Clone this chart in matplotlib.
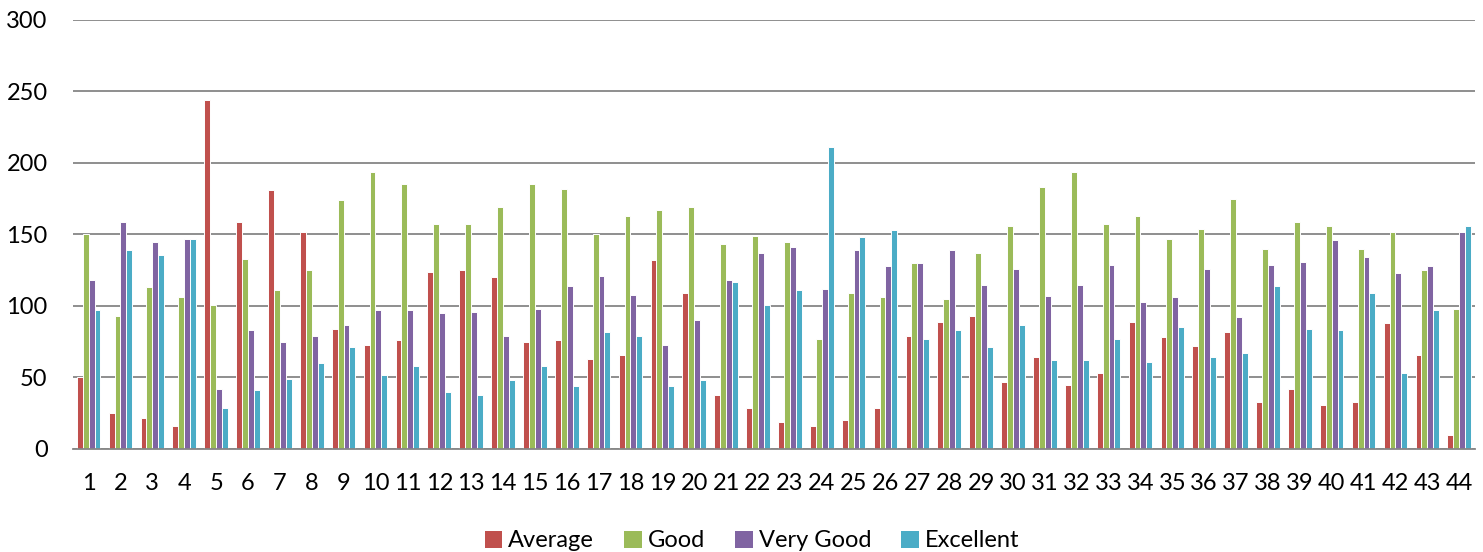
import matplotlib
matplotlib.use("Agg")
import matplotlib.pyplot as plt
import numpy as np

categories = [str(i) for i in range(1, 45)]
average = [50, 25, 22, 16, 244, 159, 181, 152, 84, 73, 76, 124, 125, 120, 75, 76, 63, 66, 132, 109,
           38, 29, 19, 16, 20, 29, 79, 89, 93, 47, 64, 45, 53, 89, 78, 72, 82, 33, 42, 31, 33, 88, 66, 10]
good = [150, 93, 113, 106, 101, 133, 111, 125, 174, 194, 185, 157, 157, 169, 185, 182, 150, 163, 167, 169,
        143, 149, 145, 77, 109, 106, 130, 105, 137, 156, 183, 194, 157, 163, 147, 154, 175, 140, 159, 156, 140, 152, 125, 98]
very_good = [118, 159, 145, 147, 42, 83, 75, 79, 87, 97, 97, 95, 96, 79, 98, 114, 121, 108, 73, 90,
             118, 137, 141, 112, 139, 128, 130, 139, 115, 126, 107, 115, 129, 103, 106, 126, 92, 129, 131, 146, 134, 123, 128, 152]
excellent = [97, 139, 136, 147, 29, 41, 49, 60, 71, 52, 58, 40, 38, 48, 58, 44, 82, 79, 44, 48,
             117, 101, 111, 211, 148, 153, 77, 83, 71, 87, 62, 62, 77, 61, 85, 64, 67, 114, 84, 83, 109, 53, 97, 156]
series_names = ["Average", "Good", "Very Good", "Excellent"]
yticks = [0, 50, 100, 150, 200, 250, 300]

colors = ["#C0504D", "#9BBB59", "#8064A2", "#4BACC6"]
plt.rcParams['font.family'] = ['Lato', 'DejaVu Sans']

fig = plt.figure(figsize=(14.83, 5.52), dpi=100)
ax = fig.add_axes([0.049, 0.1866, 0.9457, 0.7772])

x = np.arange(len(categories))
step = 0.185
data = [average, good, very_good, excellent]
for i, (vals, name, c) in enumerate(zip(data, series_names, colors)):
    ax.bar(x + (i - 1.5) * step, vals, width=step, color=c, edgecolor="white",
           linewidth=0.7, label=name, zorder=3)

ax.set_xlim(-0.5, len(categories) - 0.5)
ax.set_ylim(0, 300)
ax.set_yticks(yticks)
ax.set_xticks(x)
ax.set_xticklabels(categories)
ax.tick_params(axis='both', length=0, labelsize=17, colors="#000000")
ax.tick_params(axis='y', pad=18)
ax.tick_params(axis='x', pad=17)
ax.yaxis.grid(True, color="#868686", linewidth=1.3, zorder=0)
for s in ["top", "right", "left"]:
    ax.spines[s].set_visible(False)
ax.spines["bottom"].set_color("#868686")
ax.spines["bottom"].set_linewidth(1.3)
ax.spines["bottom"].set_zorder(5)

leg = fig.legend(loc="center", bbox_to_anchor=(0.507, 0.02), ncol=4, frameon=False,
                 fontsize=17, handlelength=0.75, handleheight=0.75, handletextpad=0.25,
                 columnspacing=1.27, borderpad=0)
for h in leg.legend_handles:
    h.set_edgecolor("none")

fig.savefig("out.png", dpi=100)
